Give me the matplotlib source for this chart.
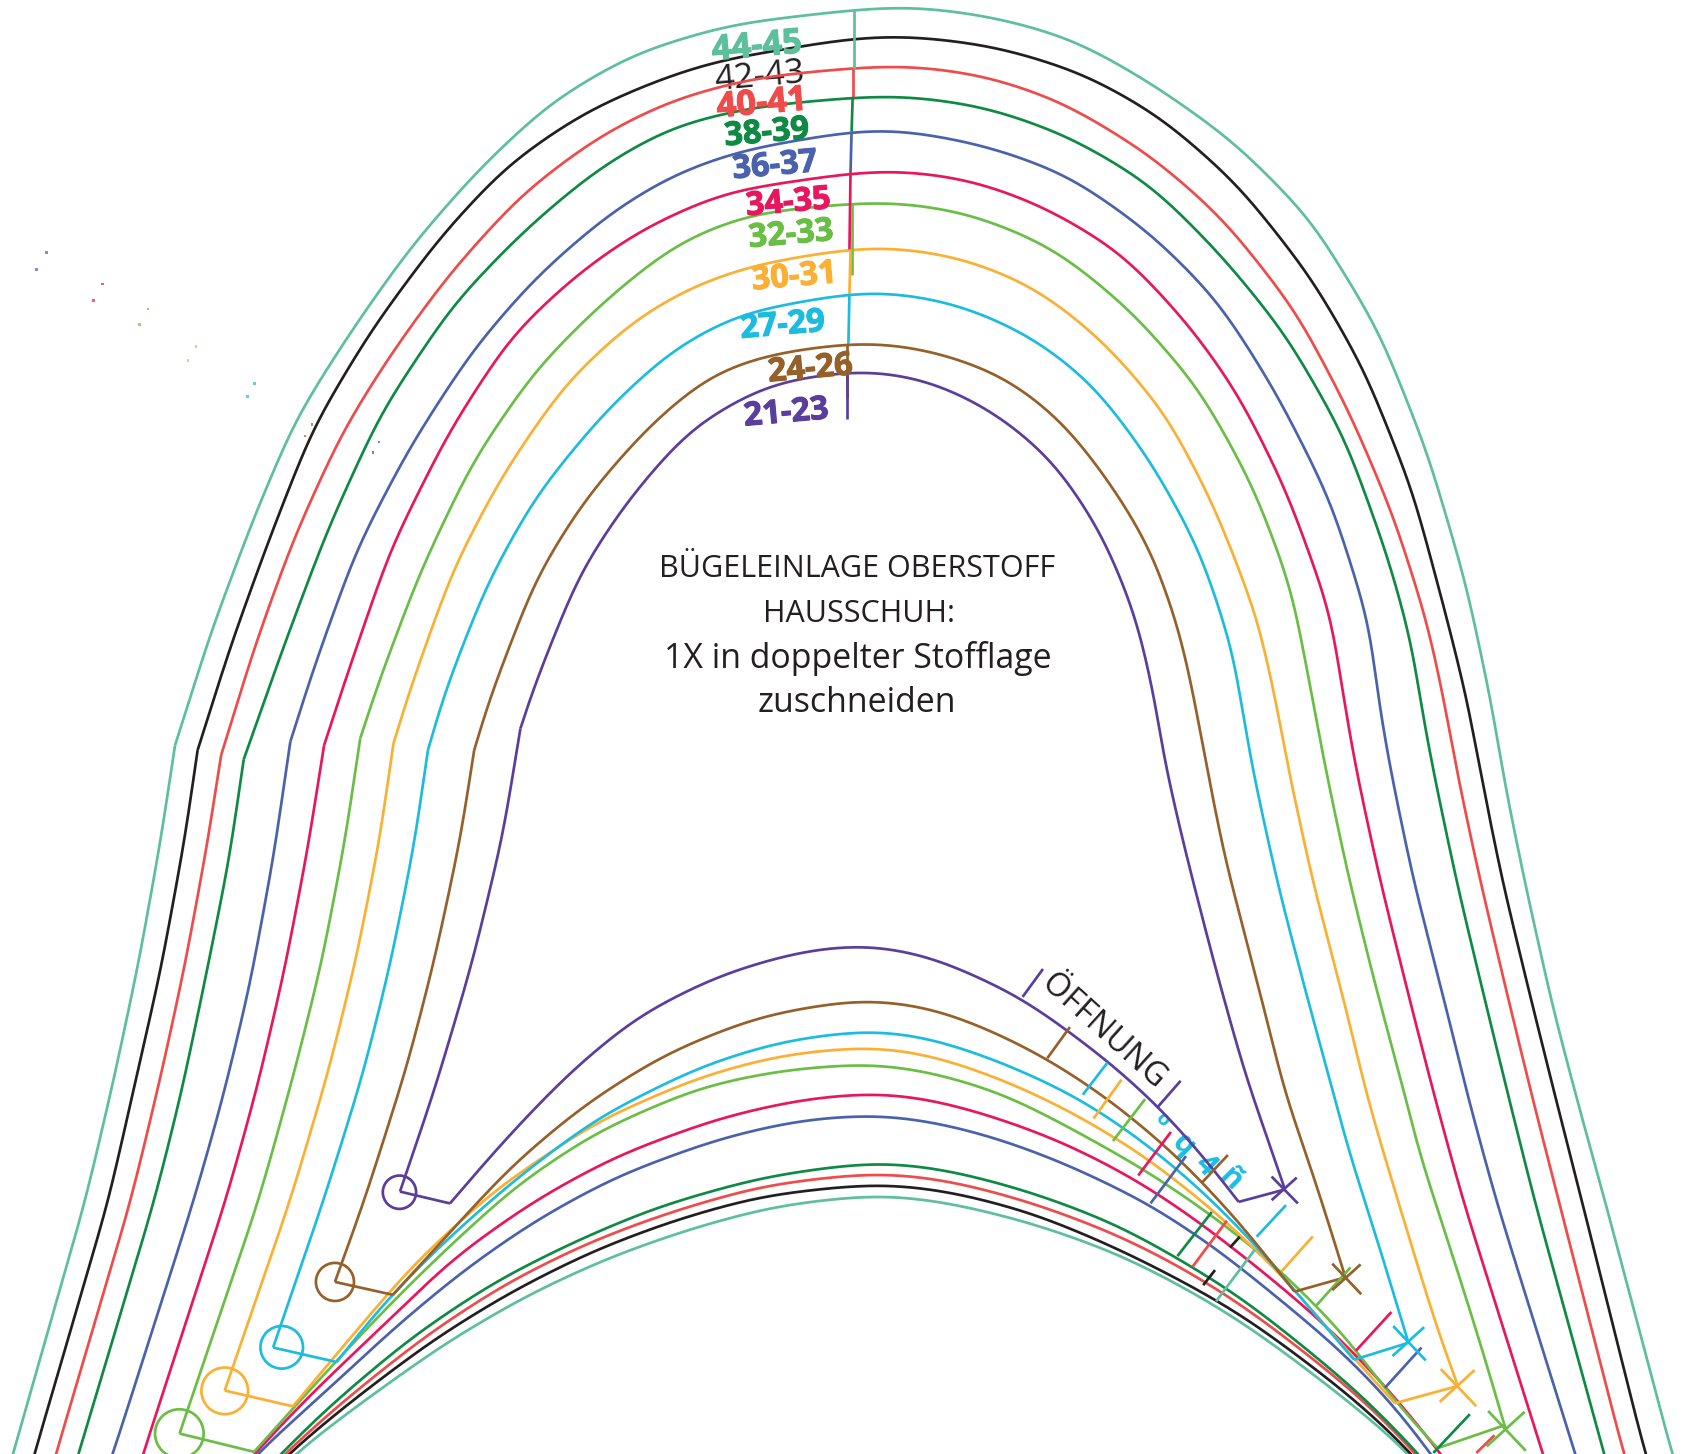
import matplotlib
matplotlib.use('Agg')
import matplotlib.pyplot as plt
import matplotlib.patheffects as pe
from matplotlib.patches import Circle
import numpy as np

# colours per size
TEAL = "#5dbf9b"
BLACK = "#231f20"
RED = "#ef4b4b"
DGREEN = "#0f8a45"
BLUE = "#4a62ae"
CRIMSON = "#e8175d"
GREEN = "#6abd45"
ORANGE = "#fbb034"
CYAN = "#1cbce0"
BROWN = "#95602a"
PURPLE = "#5a3e9e"

# outer edges, a point given twice is a corner in the line
outer_teal = [(0,1395),(12,1352),(79.5,1116),(105,1007.5),(128.8,896),(149.5,781),(162.8,693),(162.8,693),(196.7,586),(237.3,478),(275.6,388),(327.4,306.5),(381.5,230),(444.6,157.8),(512,94.7),(589,49.6),(679,22.5),(794,9),(849,5.5),(925.7,15.8),(998,36),(1070,76.6),(1146.6,130.7),(1218.8,203),(1282,306.5),(1327,419),(1363,541),(1386.5,651),(1400,731.6),(1419,824.6),(1444.7,939.3),(1470,1035),(1492.5,1116),(1555,1352),(1570,1400)]
outer_black = [(20,1395),(32,1352),(101,1116),(127,1001),(149.5,902),(171.7,781),(183.8,697.5),(183.8,697.5),(214.7,599.6),(250.8,500),(291.4,396.7),(345.4,306.5),(408.6,221),(471.7,153),(543.8,103.7),(611.4,74.4),(665.5,56.4),(794,35),(844.6,33),(925.7,42.8),(1007,67.6),(1079,108),(1151,171),(1219,257),(1268.4,342.6),(1313.4,455),(1345,572.5),(1364.6,651),(1376.4,716),(1397,818.4),(1422.5,923.8),(1448,1026),(1471,1116),(1530,1352),(1545,1400)]
outer_red = [(40,1395),(52,1352),(121.8,1116),(149.5,1001),(171.7,899),(192.4,787),(205.7,702),(205.7,702),(237.3,599.6),(273.3,500),(318.4,401),(363.5,329),(417.6,254.7),(485.2,180),(557.3,126),(625,92.4),(701.6,72),(794,63),(844.6,60.5),(916.7,70),(989,94.7),(1070,144),(1137.6,203),(1205,288.5),(1255,383),(1295.4,478),(1327,577),(1343,651),(1354,713),(1375,812),(1400,917.6),(1425.7,1023),(1449.5,1116),(1510,1352),(1525,1400)]
outer_dgreen = [(60,1395),(73,1352),(143.7,1116),(168.5,1017),(190.8,911),(213,800),(226.7,706),(226.7,706),(264.3,599.6),(305,491.4),(354.5,383),(422,281.8),(489.7,212),(557.3,155.5),(625,117),(701.6,99),(794,90.5),(840,88.5),(916.7,99),(993.4,126),(1070,171),(1137.6,239),(1196,311),(1250.3,405.7),(1291,518.4),(1313.4,599.6),(1320.7,651),(1333.4,719),(1355.7,824.6),(1381,930),(1403,1020),(1427,1116),(1492,1352),(1505,1400)]
outer_blue = [(90,1395),(105,1352),(180.3,1116),(206.7,1023),(232,918),(254.4,797),(270,689.7),(270,689.7),(291.4,622),(332,509.4),(381.5,414.7),(440,324.6),(498.7,257),(566.3,198.4),(625,162.3),(688,139.7),(794,121.5),(835.6,120),(916.7,135),(993.4,162.3),(1070,216.4),(1133,279.5),(1187,365),(1237,464),(1273,577),(1282,651),(1292,710),(1314.4,818.4),(1340,917.6),(1365.2,1020),(1391.3,1116),(1465,1352),(1480,1400)]
outer_crimson = [(120,1395),(133,1352),(210,1116),(238.5,1014),(264,905),(286,790.5),(301.4,693),(301.4,693),(323,626.6),(363.5,509.4),(417.6,401),(476,311),(539.3,252.4),(598,212),(674.5,178),(794,160.4),(835.6,158),(903.2,166.8),(970.8,191.6),(1043,234.4),(1106,302),(1151,365),(1196,455),(1237,568),(1250,651),(1260,710),(1282.6,815),(1308,917.6),(1333.4,1017),(1360.5,1116),(1435,1352),(1450,1400)]
outer_green = [(167,1333),(240.7,1116),(273.5,998),(299,896),(321,781),(335,686.6),(335,686.6),(350,640),(390.5,532),(440,428),(498.7,342.6),(562,279.5),(629.5,225.4),(697,198.4),(791.7,189),(835.6,187.5),(903.2,198.4),(980,230),(1052,288.5),(1115,360.6),(1165,450.8),(1200.7,545.5),(1221,651),(1231.7,710),(1254,815),(1279.4,917.6),(1306.4,1017),(1319,1069.5),(1351.5,1169),(1379.5,1258),(1400,1328)]
outer_orange = [(209,1293),(270,1116),(305,998),(331,893),(353,781),(366,691),(366,691),(381.5,640),(422,527.4),(467,441.8),(525.8,356),(589,297.5),(643,266),(701.6,245.7),(791.7,231),(826.6,229),(894,239),(961.8,266),(1025,315.6),(1083.5,383),(1128.6,468.8),(1169,572.5),(1186.5,651),(1198.3,716),(1222,824.6),(1247.6,921),(1273,1026),(1286,1069.5),(1314,1162.5),(1339,1243),(1356,1289)]
outer_cyan = [(254,1253),(301,1116),(337,1001),(362.5,899),(385,787),(398,697.5),(398,697.5),(413,644.6),(453.6,541),(498.7,460),(562,383),(625,324.6),(688,290.8),(789.5,272.6),(822,270.4),(889.7,281.8),(957.3,311),(1016,356),(1070,428),(1115,509.4),(1146.6,604),(1153.8,651),(1165,716),(1188.8,824.6),(1214,921),(1241,1020),(1254,1069.5),(1280,1150),(1310,1249)]
outer_brown = [(311.5,1192),(339,1116),(378.4,992),(404,893),(428,781),(441,697.5),(441,697.5),(453.6,653.7),(498.7,536.5),(543.8,464),(602.4,396.7),(661,347),(715,329),(789.5,319),(817.5,318),(871.6,326.8),(934.8,349.4),(989,392),(1034,450.8),(1070,509.4),(1097,586),(1111,651),(1120.4,703.7),(1139.5,800),(1165,896),(1196.7,1023),(1213.7,1069.5),(1233.8,1131.5),(1251,1187)]
outer_purple = [(372,1108),(404,1014),(439,896),(467.5,778),(484,677.4),(484,677.4),(494,644.6),(539.3,532),(584.4,464),(643,396.7),(715,356),(789.5,345),(813,344),(867,354),(925.7,383),(980,428),(1025,496),(1056.5,572.5),(1074.3,651),(1082,703.7),(1101.3,787.4),(1130,899),(1158.5,1001),(1182.6,1069.5),(1195,1106)]

# inner edges
inner_purple = [(372,1108),(418.5,1119),(418.5,1119),(467.9,1061.5),(528.6,998),(593,944.3),(669,906.3),(745,884),(805.7,877.5),(866.4,888.9),(950,927),(1029.6,985.5),(1079,1030),(1120.7,1077),(1152,1117.6),(1152,1117.6),(1195,1106)]
inner_brown = [(311.5,1192),(365.4,1204),(365.4,1204),(414.7,1150),(475.4,1084),(543.8,1026.7),(619.7,979),(707,944.3),(802,928.4),(866.4,936.4),(923.4,958.6),(976.5,985.5),(1033.5,1023.5),(1094,1074),(1151,1134.4),(1204,1201),(1204,1201),(1251.7,1187.6)]
inner_cyan = [(254,1253),(313,1266.5),(313,1266.5),(357.8,1210.4),(411,1156.6),(475.4,1099.5),(555,1039.3),(650,991.8),(726,968),(811,957),(866.4,965),(934.8,988.7),(1003,1020.3),(1063.8,1061.5),(1117,1106),(1170,1159.7),(1215.6,1213.6),(1259.3,1264.3),(1259.3,1264.3),(1310.5,1248.4)]
inner_orange = [(209,1293),(272.4,1307.7),(272.4,1307.7),(327.4,1242),(384.3,1175.6),(460.3,1105.9),(555,1042.5),(650,1001.3),(726,980.7),(811,972.5),(866.4,980.7),(934.8,1004.5),(995.5,1033),(1063.8,1074),(1132,1128),(1189,1182),(1246,1248.4),(1297.3,1304.8),(1297.3,1304.8),(1356,1288.7)]
inner_green = [(167,1333),(236.3,1350),(236.3,1350),(282,1299),(346.4,1229.4),(403.3,1172.4),(479.2,1102.7),(555,1052),(650,1010.8),(726,995),(811,988.3),(866.4,996.6),(934.8,1017.2),(995.5,1048.8),(1063.8,1086.9),(1124.5,1128),(1181.5,1172.4),(1246,1235.8),(1299,1305.5),(1337,1346.6),(1337,1346.6),(1400,1325)]
inner_crimson = [(195,1400),(238,1350),(289.4,1296),(346.4,1242),(422.3,1169),(498.2,1115.4),(574,1074.2),(669,1039.3),(745,1022),(816,1015.5),(866.4,1022),(923.4,1037.8),(988,1061.5),(1056.2,1096.4),(1113,1134.4),(1170,1178.7),(1227,1226.3),(1284,1283.3),(1341,1352.3),(1375,1400)]
inner_blue = [(197,1400),(240,1350),(300.8,1296),(365.4,1235.8),(430,1181.9),(498.2,1134.4),(574,1093.2),(669,1058.4),(745,1041),(816,1036),(866.4,1042.5),(923.4,1056.8),(988,1080.5),(1067.6,1118.5),(1132,1161.3),(1193,1210.4),(1246,1254.8),(1295.4,1305.5),(1329.5,1349.8),(1365,1400)]
inner_dgreen = [(215,1400),(262.9,1350),(308.4,1305.5),(384.3,1242),(460.3,1191.4),(536.2,1153.4),(612,1121.7),(707,1094.8),(783,1083.7),(824,1080.2),(885.4,1088.4),(961.3,1109),(1037,1137.6),(1094,1169),(1151,1204),(1208,1248.4),(1265,1296),(1318,1349.8),(1360,1400)]
inner_red = [(218,1400),(264.8,1351.4),(319.8,1302.3),(395.7,1242),(467.9,1194.6),(543.8,1156.6),(619.7,1128),(707,1102.7),(783,1093.2),(824,1090.3),(885.4,1098),(961.3,1118.5),(1037,1147),(1094,1175.6),(1151,1210.4),(1208,1253),(1265,1299),(1316,1349.8),(1356,1400)]
inner_black = [(222,1400),(266.7,1352.4),(327.4,1302.3),(403.3,1245.3),(475.4,1200.9),(551.4,1162.9),(627.3,1134.4),(707,1112),(783,1103.3),(824,1100.4),(885.4,1108),(961.3,1128),(1037,1159.7),(1094,1188.2),(1151,1220),(1208,1261),(1265,1305.5),(1314.4,1352.4),(1354,1400)]
inner_teal = [(228,1400),(272.4,1352.4),(338.8,1302.3),(414.7,1248.4),(490.6,1204),(566.5,1169),(642.5,1142.3),(718.4,1121.7),(783,1113.8),(824,1110.6),(885.4,1118.6),(961.3,1137.6),(1037,1164.5),(1094,1193),(1151,1226.3),(1208,1267.4),(1265,1311.8),(1312.5,1352.4),(1350,1400)]

outer_curves = [(outer_teal,TEAL),(outer_black,BLACK),(outer_red,RED),(outer_dgreen,DGREEN),(outer_blue,BLUE),(outer_crimson,CRIMSON),(outer_green,GREEN),(outer_orange,ORANGE),(outer_cyan,CYAN),(outer_brown,BROWN),(outer_purple,PURPLE)]
inner_curves = [(inner_teal,TEAL),(inner_black,BLACK),(inner_red,RED),(inner_dgreen,DGREEN),(inner_blue,BLUE),(inner_crimson,CRIMSON),(inner_green,GREEN),(inner_orange,ORANGE),(inner_cyan,CYAN),(inner_brown,BROWN),(inner_purple,PURPLE)]

# fold line pieces at the top
fold_lines = [((794,9),(794,64),TEAL),((793,64),(793,90),RED),((793,90),(792,122),DGREEN),((792,122),(791,160),BLUE),((791,160),(790,232),CRIMSON),((792,190),(792,256),GREEN),((791,232),(790,273),ORANGE),((790,273),(789,320),CYAN),((788,320),(788,370),BROWN),((788,346),(788,390),PURPLE)]

# opening ticks
ticks = [((951,927),(970,901),PURPLE),((974,984),(995,955),BROWN),((1007,1018),(1030,988),CYAN),((1017,1040),(1043,1004),ORANGE),((1035,1061),(1065,1022),GREEN),((1077,1029),(1098,1005),PURPLE),((1058.6,1093),(1089,1052.5),CRIMSON),((1070,1119),(1103,1075),BLUE),((1117.5,1100),(1142,1074),BROWN),((1095,1168),(1127,1127),DGREEN),((1109,1178),(1141,1135),RED),((1144,1160),(1153,1150),BLACK),((1168.7,1150),(1196,1120.6),CYAN),((1119,1195),(1130,1181),BLACK),((1131,1210),(1167,1162),TEAL),((1192,1182),(1221,1149.6),ORANGE),((1224.5,1213.6),(1256,1178.5),GREEN),((1261,1256),(1294,1220),CRIMSON),((1288,1290.5),(1322,1253),BLUE),((1333,1351),(1367,1315),DGREEN),((1373,1351),(1390,1334.5),RED)]

# crosses at the right end, two strokes each
crosses = [((1182.6,1094),(1207,1119),PURPLE),((1182.6,1116),(1206,1095),PURPLE),((1239,1175),(1266,1203.5),BROWN),((1239,1199.6),(1265.4,1175.7),BROWN),((1295.7,1233),(1326,1265),CYAN),((1295,1261),(1324.5,1234),CYAN),((1340,1273),(1373,1307.6),ORANGE),((1339,1303.5),(1371.4,1274),ORANGE),((1384,1312),(1419,1349),GREEN),((1382.6,1345),(1418,1312.8),GREEN)]

# circles at the left end
circles = [((371.5,1108.6),15.5,PURPLE),((311.5,1192),17.7,BROWN),((262,1252.8),19.8,CYAN),((209,1293.3),21.7,ORANGE),((166.8,1333),22.6,GREEN)]

size_labels = ["44-45","42-43","40-41","38-39","36-37","34-35","32-33","30-31","27-29","24-26","21-23"]
size_label_colors = [TEAL,BLACK,RED,DGREEN,BLUE,CRIMSON,GREEN,ORANGE,CYAN,BROWN,PURPLE]
size_label_pos = [(704,44),(706,72),(708.5,97),(713,124),(720.5,154.6),(733,189),(735.4,218.6),(738.5,258),(727.7,303),(753.4,343.5),(731,384.5)]
size_label_weight = ["bold","normal","bold","bold","bold","bold","bold","bold","bold","bold","bold"]

title_lines = ["BÜGELEINLAGE OBERSTOFF","HAUSSCHUH:","1X in doppelter Stofflage","zuschneiden"]
title_pos = [(797,529),(799,571),(798,612),(797,654)]

# broken pieces of a cyan label on the opening
stray_glyphs = ["o","q","4","ñ"]
stray_pos = [(1081,1041),(1100,1065),(1120.6,1083.4),(1144,1097)]

# tiny specks on the left
speck_x = [43.4,34,95.5,86.8,137.7,129.6,182.3,174.8,236.8,230,290,283.6,352.5,347]
speck_y = [234.6,250.5,264,279.6,287.5,301.6,322,335,356.5,368.5,394.5,405.6,411,420.6]
speck_c = [BLUE,BLUE,CRIMSON,CRIMSON,GREEN,GREEN,ORANGE,ORANGE,CYAN,CYAN,BROWN,BROWN,PURPLE,PURPLE]


def smooth_line(part):
    # the read points are noisy: resample along the line and blur it, ends stay put
    a = np.array(part, dtype=float)
    if len(a) <= 2:
        return a[:, 0], a[:, 1]
    s = np.r_[0, np.cumsum(np.hypot(*np.diff(a, axis=0).T))]
    step = 2.0
    t = np.arange(0, s[-1] + step, step)
    t[-1] = s[-1]
    out = []
    sigma = min(30.0, s[-1] / 6) / step
    k = int(3 * sigma)
    kern = np.exp(-0.5 * (np.arange(-k, k + 1) / sigma) ** 2)
    kern /= kern.sum()
    for col in a.T:
        v = np.interp(t, s, col)
        # mirrored through the end points so the ends do not move
        pad = np.r_[2 * v[0] - v[k:0:-1], v, 2 * v[-1] - v[-2:-k - 2:-1]]
        out.append(np.convolve(pad, kern, mode='valid'))
    return out[0], out[1]


def split_corners(pts):
    parts = [[pts[0]]]
    for p in pts[1:]:
        if p == parts[-1][-1]:
            parts.append([p])
        else:
            parts[-1].append(p)
    return parts


fig = plt.figure(figsize=(16.86, 14.54), dpi=100)
ax = fig.add_axes([0, 0, 1, 1])
ax.set_xlim(0, 1568)
ax.set_ylim(1352, 0)
ax.axis('off')

LW = 1.95
for pts, c in outer_curves + inner_curves:
    for part in split_corners(pts):
        x, y = smooth_line(part)
        ax.plot(x, y, color=c, lw=LW, solid_capstyle='butt', zorder=2)

for a, b, c in fold_lines + ticks + crosses:
    ax.plot([a[0], b[0]], [a[1], b[1]], color=c, lw=LW, solid_capstyle='butt', zorder=2)

for xy, r, c in circles:
    ax.add_patch(Circle(xy, r, fc='none', ec=c, lw=LW, zorder=2))

for s, c, p, w in zip(size_labels, size_label_colors, size_label_pos, size_label_weight):
    fs = 25 if s in ("44-45", "42-43", "40-41") else 23.5
    # the black one sits under the red line
    z = 1 if c == BLACK else 3
    t = ax.text(p[0], p[1], s, color=c, fontsize=fs, family='Open Sans', weight=w,
                ha='center', va='center', rotation=5, zorder=z)
    if w == "bold":
        t.set_path_effects([pe.withStroke(linewidth=0.8, foreground=c)])

for s, p, fs in zip(title_lines, title_pos, [22, 22, 24.4, 24.4]):
    ax.text(p[0], p[1], s, color=BLACK, fontsize=fs, family='Open Sans', ha='center', va='center')

ax.text(1026, 959, "ÖFFNUNG", color=BLACK, fontsize=23.5, family='Open Sans',
        ha='center', va='center', rotation=-42, rotation_mode='anchor')

for s, p, fs in zip(stray_glyphs, stray_pos, [14, 22, 22, 22]):
    ax.text(p[0], p[1], s, color=CYAN, fontsize=fs, family='Open Sans', weight='bold',
            ha='center', va='center', rotation=-45, zorder=1)

ax.scatter(speck_x, speck_y, s=3.5, c=speck_c, linewidths=0, alpha=0.7, marker='s')

plt.savefig("out.png", dpi=100)
